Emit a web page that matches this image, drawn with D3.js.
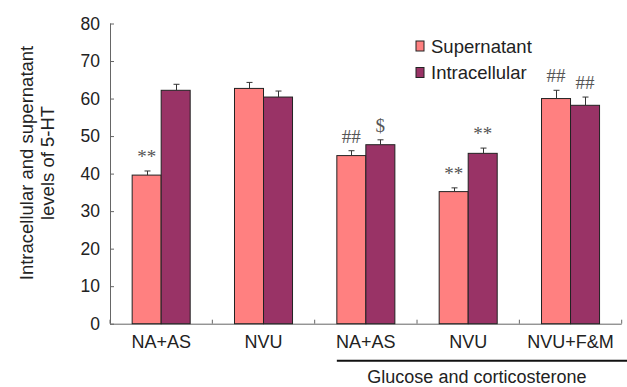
<!DOCTYPE html>
<html>
<head>
<meta charset="utf-8">
<script src="https://cdn.jsdelivr.net/npm/d3@7/dist/d3.min.js"></script>
<style>
  html, body { margin: 0; padding: 0; background: #fff; }
  svg { display: block; }
</style>
</head>
<body>
<svg id="chart" width="627" height="387"></svg>
<script>
const categories = ["NA+AS", "NVU", "NA+AS", "NVU", "NVU+F&M"];
const seriesNames = ["Supernatant", "Intracellular"];
const supernatant = [39.6, 62.7, 44.8, 35.2, 60.0];
const supernatantErr = [1.1, 1.6, 1.3, 1.0, 2.2];
const intracellular = [62.2, 60.4, 47.7, 45.4, 58.2];
const intracellularErr = [1.6, 1.6, 1.3, 1.4, 2.2];
const supernatantMarks = ["**", "", "##", "**", "##"];
const intracellularMarks = ["", "", "$", "**", "##"];
const yTicks = [0, 10, 20, 30, 40, 50, 60, 70, 80];
const colors = ["#FF8080", "#993366"];
const groupLabel = "Glucose and corticosterone";
const yTitle = ["Intracellular and supernatant", "levels of 5-HT"];

const svg = d3.select("#chart");
const mLeft = 110, mRight = 621.7, mTop = 23.5, mBottom = 323.7;

const idx = categories.map((d, i) => i);
const x0 = d3.scaleBand().domain(idx).range([mLeft, mRight])
  .paddingInner(0.433).paddingOuter(0.2165);
const x1 = d3.scaleBand().domain([0, 1]).range([0, x0.bandwidth()]);
const y = d3.scaleLinear().domain([0, 80]).range([mBottom, mTop]);

const series = [
  { vals: supernatant, errs: supernatantErr, marks: supernatantMarks },
  { vals: intracellular, errs: intracellularErr, marks: intracellularMarks }
];

// Y axis
const yAxis = svg.append("g").attr("transform", `translate(${mLeft},0)`)
  .call(d3.axisRight(y).tickValues(yTicks).tickSize(4).tickFormat(d3.format("d")));
yAxis.select(".domain").attr("stroke", "#666").attr("d", `M0.5,${mTop}V${mBottom}`);
yAxis.selectAll(".tick line").attr("stroke", "#666");
yAxis.selectAll(".tick text").attr("x", -10).attr("text-anchor", "end")
  .attr("font-family", "Liberation Sans, Arial, sans-serif").attr("font-size", 17.5)
  .attr("fill", "#222");

// X axis (category boundaries ticks)
const step = x0.step();
const bounds = d3.range(categories.length + 1).map(i => mLeft + i * step);
svg.append("line").attr("x1", mLeft).attr("x2", mRight).attr("y1", mBottom + 0.5).attr("y2", mBottom + 0.5)
  .attr("stroke", "#666");
svg.selectAll(".xtick").data(bounds).join("line")
  .attr("x1", d => d).attr("x2", d => d).attr("y1", mBottom).attr("y2", mBottom - 4)
  .attr("stroke", "#666");

svg.selectAll(".xlabel").data(categories).join("text")
  .attr("x", (d, i) => x0(i) + x0.bandwidth() / 2)
  .attr("y", 347.5)
  .attr("text-anchor", "middle")
  .attr("font-family", "Liberation Sans, Arial, sans-serif").attr("font-size", 18)
  .attr("fill", "#222")
  .text(d => d);

// Bars
series.forEach((s, si) => {
  const g = svg.append("g");
  g.selectAll("rect").data(s.vals).join("rect")
    .attr("x", (d, i) => x0(i) + x1(si))
    .attr("y", d => y(d))
    .attr("width", x1.bandwidth())
    .attr("height", d => mBottom - y(d))
    .attr("fill", colors[si])
    .attr("stroke", "#222").attr("stroke-width", 1);
  g.selectAll(".err").data(s.vals).join("path")
    .attr("fill", "none").attr("stroke", "#333").attr("stroke-width", 1)
    .attr("d", (d, i) => {
      const cx = Math.round(x0(i) + x1(si) + x1.bandwidth() / 2) + 0.5;
      const yt = y(d + s.errs[i]);
      return `M${cx},${y(d)}V${yt}M${cx - 3},${yt}H${cx + 3}`;
    });
  g.selectAll(".mark").data(s.marks).join("text")
    .attr("x", (d, i) => x0(i) + x1(si) + x1.bandwidth() / 2)
    .attr("y", (d, i) => y(s.vals[i] + s.errs[i]) - 8)
    .attr("text-anchor", "middle")
    .attr("font-family", "Liberation Serif, Times New Roman, serif").attr("font-size", 19)
    .attr("fill", "#555")
    .text(d => d);
});

// Legend
const legend = svg.append("g");
seriesNames.forEach((name, i) => {
  legend.append("rect").attr("x", 416).attr("y", 41 + i * 26.5).attr("width", 8).attr("height", 10)
    .attr("fill", colors[i]).attr("stroke", "#222").attr("stroke-width", 1);
  legend.append("text").attr("x", 431).attr("y", 53 + i * 26)
    .attr("font-family", "Liberation Sans, Arial, sans-serif").attr("font-size", 18.5)
    .attr("fill", "#222").text(name);
});

// Y title
const ytl = svg.append("text")
  .attr("transform", "translate(0,163) rotate(-90)")
  .attr("text-anchor", "middle")
  .attr("font-family", "Liberation Sans, Arial, sans-serif").attr("font-size", 18.5)
  .attr("fill", "#222");
ytl.append("tspan").attr("x", 0).attr("y", 33).text(yTitle[0]);
ytl.append("tspan").attr("x", 0).attr("y", 54).text(yTitle[1]);

// Group bracket
svg.append("line").attr("x1", x0(2)).attr("x2", 627).attr("y1", 360.7).attr("y2", 360.7)
  .attr("stroke", "#111").attr("stroke-width", 2);
svg.append("text").attr("x", (x0(2) + 627) / 2 - 5).attr("y", 383)
  .attr("text-anchor", "middle")
  .attr("font-family", "Liberation Sans, Arial, sans-serif").attr("font-size", 18)
  .attr("fill", "#222").text(groupLabel);
</script>
</body>
</html>
